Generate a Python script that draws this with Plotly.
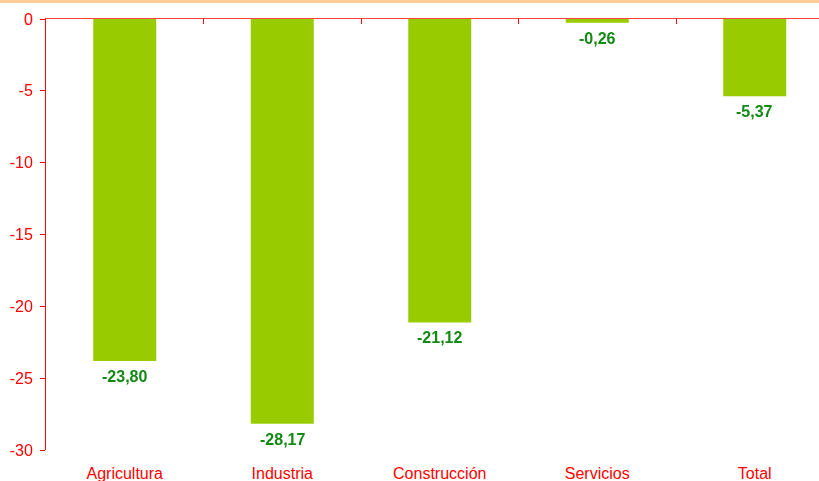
import plotly.graph_objects as go

categories = ["Agricultura", "Industria", "Construcción", "Servicios", "Total"]
values = [-23.80, -28.17, -21.12, -0.26, -5.37]
y_ticks = [0, -5, -10, -15, -20, -25, -30]
y_tick_labels = ["0", "-5", "-10", "-15", "-20", "-25", "-30"]

RED = "#FF0000"
BAR = "#99CC00"
LABEL = "#138A13"
FONT = "Liberation Sans, Arial, sans-serif"

fig = go.Figure()
fig.add_trace(go.Bar(x=categories, y=values, marker=dict(color=BAR, line=dict(width=0)),
                     width=0.4, hoverinfo="skip", xaxis="x", yaxis="y"))
# invisible helper trace for the top (zero) axis
fig.add_trace(go.Scatter(x=categories, y=values, mode="markers", opacity=0,
                         hoverinfo="skip", xaxis="x2", yaxis="y", showlegend=False))

for c, v in zip(categories, values):
    fig.add_annotation(x=c, y=v, xref="x", yref="y", text=f"<b>{v:.2f}</b>".replace(".", ","),
                       showarrow=False, yanchor="top", yshift=-5,
                       font=dict(family=FONT, size=16, color=LABEL))

plot_w = 819 - 46
x_hi = -0.5 + plot_w / 157.5

fig.update_layout(
    width=819, height=481,
    margin=dict(l=46, r=0, t=19, b=31),
    paper_bgcolor="white", plot_bgcolor="white",
    showlegend=False,
    font=dict(family=FONT, size=16, color=RED),
    xaxis=dict(type="category", categoryarray=categories, range=[-0.5, x_hi],
               showline=False, ticks="", showgrid=False, zeroline=False,
               tickfont=dict(family=FONT, size=16, color=RED), ticklabelstandoff=12),
    xaxis2=dict(type="category", categoryarray=categories, overlaying="x", side="top",
                matches="x", showline=True, linecolor="#FF4040", linewidth=1,
                ticks="inside", ticklen=5, tickcolor=RED, tickson="boundaries",
                showticklabels=False, showgrid=False, zeroline=False),
    yaxis=dict(range=[-30, 0], tickvals=y_ticks, ticktext=y_tick_labels,
               showline=True, linecolor=RED, linewidth=1, ticks="outside", ticklen=5,
               tickcolor=RED, showgrid=False, zeroline=False,
               tickfont=dict(family=FONT, size=16, color=RED), ticklabelstandoff=4),
    shapes=[dict(type="rect", xref="paper", yref="paper", x0=-0.2, x1=1.2,
                 ysizemode="pixel", yanchor=1, y0=16, y1=20,
                 fillcolor="#FFCC99", line=dict(width=0), layer="above")],
)

fig.write_html("out.html")
